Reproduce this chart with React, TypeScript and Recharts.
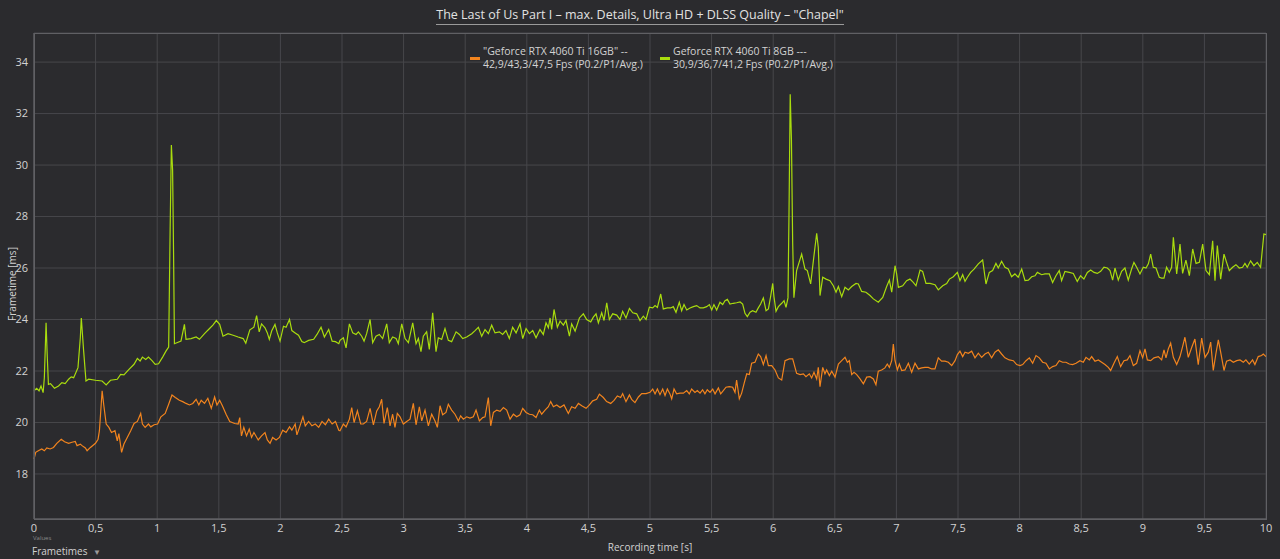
import React from "react";
import { LineChart, Line, XAxis, YAxis, CartesianGrid } from "recharts";

// Frametime series [time s, frametime ms]
const rtx16_a: [number, number][] = [
  [0, 18.58], [0.014, 18.84], [0.035, 18.9], [0.063, 18.97], [0.084, 18.9], [0.104, 19.01], [0.131, 18.97], [0.158, 19.03], [0.185, 19.19], [0.221, 19.35], [0.248, 19.25], [0.281, 19.19], [0.308, 19.23], [0.335, 19.26], [0.349, 19.1], [0.376, 19.16], [0.39, 19.1], [0.417, 19.01], [0.431, 18.9], [0.458, 19.03], [0.499, 19.19], [0.52, 19.35], [0.531, 19.68], [0.553, 21.23], [0.567, 20.65], [0.586, 19.94], [0.608, 19.81], [0.629, 19.61], [0.657, 19.68], [0.676, 19.29], [0.689, 19.57], [0.711, 18.84], [0.73, 19.16], [0.757, 19.42], [0.785, 19.68], [0.812, 19.96], [0.839, 20.04], [0.866, 20.35], [0.88, 19.94], [0.902, 19.81], [0.929, 19.94], [0.948, 19.83], [0.975, 19.91], [1.003, 19.94], [1.03, 20.22], [1.065, 20.35], [1.093, 20.71], [1.12, 21.07], [1.147, 20.97], [1.18, 20.86], [1.207, 20.81], [1.234, 20.74], [1.262, 20.68], [1.289, 20.74], [1.316, 20.9], [1.338, 20.68], [1.357, 20.86], [1.384, 20.74], [1.411, 20.94], [1.439, 20.55], [1.466, 20.99], [1.485, 20.68], [1.507, 20.86], [1.529, 20.65], [1.561, 20.3], [1.589, 20.04], [1.629, 19.96], [1.657, 19.94], [1.67, 20.19], [1.684, 19.48], [1.703, 19.81], [1.725, 19.48], [1.747, 19.74], [1.766, 19.42], [1.785, 19.61], [1.82, 19.32], [1.847, 19.48], [1.875, 19.61], [1.894, 19.32], [1.916, 19.19], [1.937, 19.42], [1.965, 19.32], [1.992, 19.42], [2.019, 19.7], [2.046, 19.61], [2.074, 19.83], [2.093, 19.7], [2.12, 19.94], [2.134, 19.52], [2.155, 19.81], [2.183, 20.22], [2.202, 19.87], [2.229, 20.04], [2.256, 19.87], [2.283, 19.94], [2.311, 19.81], [2.338, 20.04], [2.365, 19.91], [2.392, 20.13], [2.42, 19.94], [2.447, 20.04], [2.474, 19.7],
];
const rtx16_b: [number, number][] = [
  [2.484, 19.68], [2.511, 19.94], [2.533, 19.83], [2.56, 20.13], [2.579, 20.58], [2.598, 20.0], [2.625, 20.45], [2.652, 19.94], [2.673, 19.94], [2.7, 20.04], [2.728, 20.55], [2.755, 19.91], [2.782, 20.45], [2.803, 20.61], [2.822, 20.9], [2.841, 19.96], [2.868, 20.58], [2.89, 19.87], [2.911, 20.32], [2.93, 19.81], [2.949, 20.35], [2.971, 20.22], [2.998, 19.94], [3.025, 20.04], [3.052, 20.13], [3.079, 20.74], [3.101, 19.91], [3.128, 20.61], [3.147, 20.06], [3.174, 20.48], [3.201, 19.87], [3.228, 20.32], [3.255, 20.06], [3.274, 19.81], [3.296, 20.65], [3.317, 20.3], [3.344, 20.39], [3.363, 20.71], [3.39, 20.48], [3.417, 20.32], [3.445, 20.06], [3.463, 20.26], [3.485, 20.13], [3.512, 20.22], [3.539, 20.17], [3.566, 20.22], [3.588, 20.48], [3.615, 20.06], [3.642, 20.19], [3.661, 20.22], [3.688, 20.97], [3.707, 19.87], [3.729, 20.39], [3.756, 20.48], [3.783, 20.43], [3.81, 20.58], [3.837, 20.48], [3.864, 20.13], [3.891, 20.32], [3.918, 20.22], [3.945, 20.3], [3.967, 20.55], [3.994, 20.39], [4.021, 20.32], [4.048, 20.3], [4.075, 20.19], [4.102, 20.48], [4.121, 20.32], [4.148, 20.48], [4.175, 20.61], [4.194, 20.81], [4.216, 20.61], [4.243, 20.68], [4.27, 20.58], [4.302, 20.68], [4.337, 20.35], [4.364, 20.61], [4.392, 20.55], [4.419, 20.74], [4.446, 20.65], [4.481, 20.55], [4.508, 20.68], [4.535, 20.84], [4.567, 20.9], [4.589, 21.1], [4.621, 20.97], [4.648, 20.81], [4.681, 20.74], [4.708, 20.86], [4.735, 21.03], [4.762, 20.97], [4.778, 21.12], [4.805, 20.81], [4.833, 21.07], [4.851, 20.9], [4.878, 20.77], [4.906, 20.99], [4.933, 21.12], [4.968, 21.12],
];
const rtx16_c: [number, number][] = [
  [5.0, 21.17], [5.022, 21.3], [5.041, 21.11], [5.06, 21.3], [5.081, 21.08], [5.103, 21.3], [5.122, 21.05], [5.141, 21.3], [5.162, 21.11], [5.176, 20.92], [5.195, 21.3], [5.216, 21.11], [5.244, 21.14], [5.271, 21.14], [5.298, 21.24], [5.319, 21.11], [5.338, 21.3], [5.365, 21.17], [5.384, 21.24], [5.406, 21.14], [5.427, 21.27], [5.446, 21.11], [5.465, 21.27], [5.487, 21.17], [5.509, 21.3], [5.528, 21.11], [5.555, 21.34], [5.574, 21.11], [5.595, 21.24], [5.617, 21.37], [5.644, 21.39], [5.671, 21.37], [5.69, 21.17], [5.703, 21.65], [5.725, 20.92], [5.744, 21.14], [5.763, 21.5], [5.785, 21.89], [5.806, 21.86], [5.825, 22.3], [5.852, 22.34], [5.879, 22.66], [5.898, 22.56], [5.92, 22.25], [5.942, 22.6], [5.961, 22.21], [5.988, 22.21], [6.015, 22.04], [6.042, 21.73], [6.069, 21.65], [6.096, 22.4], [6.131, 22.47], [6.158, 22.47], [6.19, 21.91], [6.218, 21.86], [6.245, 21.89], [6.266, 21.78], [6.293, 21.89], [6.312, 21.73], [6.331, 21.95], [6.353, 21.69], [6.366, 22.14], [6.38, 21.39], [6.402, 22.14], [6.42, 21.89], [6.434, 22.04], [6.456, 21.82], [6.475, 21.99], [6.502, 21.76], [6.529, 22.27], [6.556, 22.4], [6.583, 22.53], [6.602, 22.34], [6.618, 22.4], [6.637, 21.86], [6.656, 21.95], [6.678, 21.86], [6.705, 21.69], [6.732, 21.5], [6.759, 21.76], [6.786, 21.78], [6.813, 21.69], [6.834, 21.47], [6.853, 21.99], [6.88, 22.04], [6.907, 22.12], [6.926, 22.27], [6.943, 22.14], [6.962, 22.4], [6.975, 23.05], [6.989, 22.4], [7.008, 22.04], [7.024, 22.27], [7.043, 22.02], [7.07, 22.04], [7.097, 22.3], [7.124, 21.95], [7.151, 22.3], [7.178, 22.08], [7.205, 22.12], [7.232, 22.14], [7.259, 22.14], [7.286, 22.08], [7.313, 22.08], [7.34, 22.51], [7.367, 22.38], [7.394, 22.38], [7.422, 22.34], [7.449, 22.21], [7.476, 22.4], [7.495, 22.64],
];
const rtx16_d: [number, number][] = [
  [7.516, 22.77], [7.538, 22.56], [7.557, 22.73], [7.584, 22.69], [7.611, 22.77], [7.638, 22.51], [7.665, 22.69], [7.692, 22.53], [7.719, 22.66], [7.746, 22.73], [7.773, 22.51], [7.8, 22.73], [7.827, 22.82], [7.854, 22.66], [7.881, 22.51], [7.916, 22.43], [7.949, 22.4], [7.976, 22.25], [8.003, 22.21], [8.025, 22.25], [8.052, 22.4], [8.079, 22.51], [8.106, 22.3], [8.133, 22.6], [8.16, 22.51], [8.187, 22.34], [8.214, 22.3], [8.241, 22.08], [8.268, 22.17], [8.295, 22.21], [8.322, 22.4], [8.349, 22.34], [8.376, 22.34], [8.403, 22.27], [8.43, 22.25], [8.458, 22.3], [8.49, 22.4], [8.517, 22.34], [8.539, 22.53], [8.566, 22.43], [8.585, 22.56], [8.612, 22.38], [8.639, 22.43], [8.666, 22.34], [8.693, 22.25], [8.72, 22.14], [8.739, 22.02], [8.766, 22.3], [8.793, 22.56], [8.82, 22.17], [8.847, 22.4], [8.874, 22.43], [8.896, 22.6], [8.923, 22.21], [8.95, 22.3], [8.977, 22.79], [8.999, 22.51], [9.018, 22.86], [9.037, 22.43], [9.064, 22.4], [9.091, 22.51], [9.126, 22.56], [9.153, 22.43], [9.172, 22.82], [9.188, 22.51], [9.207, 22.86], [9.226, 23.08], [9.248, 22.53], [9.275, 22.25], [9.302, 22.56], [9.323, 22.95], [9.342, 23.31], [9.369, 22.53], [9.396, 22.9], [9.423, 23.24], [9.45, 22.25], [9.478, 23.28], [9.505, 22.53], [9.532, 22.73], [9.551, 23.12], [9.572, 22.02], [9.594, 22.69], [9.613, 23.21], [9.632, 22.73], [9.659, 22.02], [9.68, 22.38], [9.708, 22.43], [9.735, 22.34], [9.762, 22.4], [9.789, 22.43], [9.816, 22.34], [9.837, 22.43], [9.864, 22.27], [9.891, 22.43], [9.91, 22.25], [9.937, 22.56], [9.964, 22.6], [9.978, 22.66], [10.0, 22.56],
];

const rtx8_a: [number, number][] = [
  [0, 21.23], [0.022, 21.33], [0.041, 21.23], [0.057, 21.42], [0.074, 21.16], [0.084, 21.74], [0.098, 23.87], [0.106, 22.77], [0.117, 21.48], [0.134, 21.51], [0.166, 21.33], [0.199, 21.42], [0.226, 21.55], [0.253, 21.51], [0.281, 21.68], [0.302, 21.77], [0.322, 21.74], [0.357, 22.13], [0.376, 23.29], [0.384, 24.06], [0.403, 22.77], [0.422, 21.61], [0.444, 21.68], [0.499, 21.64], [0.553, 21.61], [0.586, 21.46], [0.621, 21.64], [0.676, 21.68], [0.703, 21.87], [0.73, 21.85], [0.771, 22.06], [0.812, 22.26], [0.839, 22.49], [0.861, 22.39], [0.88, 22.54], [0.907, 22.45], [0.929, 22.54], [0.956, 22.41], [0.984, 22.26], [1.011, 22.28], [1.044, 22.54], [1.071, 22.77], [1.093, 22.93], [1.105, 27.5], [1.115, 30.78], [1.125, 29.8], [1.133, 26.5], [1.14, 23.06], [1.193, 23.16], [1.221, 23.81], [1.234, 23.23], [1.275, 23.26], [1.316, 23.32], [1.343, 23.23], [1.384, 23.45], [1.425, 23.65], [1.452, 23.78], [1.48, 23.96], [1.507, 23.81], [1.534, 23.35], [1.575, 23.45], [1.616, 23.39], [1.657, 23.32], [1.698, 23.26], [1.719, 23.08], [1.752, 23.6], [1.785, 23.7], [1.807, 24.15], [1.828, 23.52], [1.847, 23.83], [1.875, 23.68], [1.894, 23.48], [1.91, 23.23], [1.929, 23.55], [1.956, 23.81], [1.975, 23.48], [1.997, 23.16], [2.025, 23.74], [2.046, 23.7], [2.074, 24.0], [2.093, 23.57], [2.12, 23.48], [2.147, 23.39], [2.174, 23.14], [2.193, 23.1], [2.229, 23.19], [2.27, 23.23], [2.297, 23.42], [2.33, 23.7], [2.357, 23.32], [2.392, 23.61], [2.42, 23.16], [2.447, 23.14], [2.474, 23.06],
];
const rtx8_b: [number, number][] = [
  [2.484, 23.19], [2.511, 23.29], [2.533, 22.9], [2.56, 23.83], [2.587, 23.48], [2.614, 23.42], [2.633, 23.52], [2.66, 23.35], [2.679, 23.16], [2.7, 23.45], [2.728, 24.0], [2.749, 23.1], [2.776, 23.35], [2.803, 23.42], [2.83, 23.26], [2.863, 23.83], [2.884, 23.1], [2.911, 23.32], [2.939, 23.26], [2.957, 23.06], [2.985, 23.83], [3.012, 23.26], [3.039, 23.1], [3.074, 23.87], [3.101, 23.06], [3.12, 23.26], [3.141, 22.75], [3.16, 23.35], [3.187, 23.52], [3.209, 22.84], [3.236, 24.26], [3.263, 22.75], [3.282, 23.29], [3.309, 23.23], [3.336, 23.65], [3.363, 23.19], [3.39, 23.14], [3.426, 23.52], [3.453, 23.42], [3.48, 23.26], [3.512, 23.32], [3.553, 23.45], [3.58, 23.57], [3.607, 23.7], [3.634, 23.35], [3.661, 23.61], [3.688, 23.45], [3.715, 23.78], [3.742, 23.48], [3.777, 23.52], [3.804, 23.42], [3.831, 23.57], [3.858, 23.26], [3.885, 23.7], [3.913, 23.48], [3.945, 23.83], [3.967, 23.26], [3.994, 23.65], [4.021, 23.45], [4.048, 23.57], [4.075, 23.29], [4.107, 23.61], [4.134, 23.42], [4.156, 23.87], [4.175, 23.68], [4.189, 24.06], [4.202, 23.61], [4.221, 24.39], [4.248, 23.7], [4.27, 23.94], [4.297, 23.78], [4.318, 23.96], [4.346, 23.35], [4.364, 23.83], [4.392, 23.55], [4.427, 24.06], [4.459, 24.22], [4.486, 24.0], [4.519, 23.91], [4.54, 24.09], [4.562, 24.22], [4.581, 23.87], [4.608, 24.26], [4.627, 23.96], [4.649, 24.65], [4.67, 24.0], [4.697, 24.22], [4.73, 24.17], [4.757, 24.0], [4.778, 24.32], [4.805, 24.06], [4.833, 24.43], [4.86, 24.26], [4.892, 24.22], [4.919, 23.96], [4.946, 24.13], [4.968, 24.0], [4.995, 24.48],
];
const rtx8_c: [number, number][] = [
  [5.022, 24.45], [5.041, 24.54], [5.06, 24.47], [5.087, 24.99], [5.108, 24.41], [5.141, 24.45], [5.168, 24.45], [5.189, 24.5], [5.211, 24.28], [5.238, 24.67], [5.257, 24.34], [5.276, 24.58], [5.298, 24.37], [5.325, 24.45], [5.352, 24.5], [5.379, 24.54], [5.406, 24.45], [5.433, 24.45], [5.46, 24.5], [5.482, 24.58], [5.501, 24.37], [5.519, 24.58], [5.541, 24.37], [5.568, 24.67], [5.59, 24.58], [5.609, 24.73], [5.628, 24.78], [5.649, 24.6], [5.676, 24.63], [5.703, 24.65], [5.731, 24.68], [5.752, 24.6], [5.771, 24.24], [5.79, 24.11], [5.812, 24.28], [5.833, 24.34], [5.86, 24.28], [5.879, 24.45], [5.898, 24.6], [5.92, 24.84], [5.942, 24.34], [5.961, 24.41], [5.979, 24.89], [5.996, 25.4], [6.006, 24.89], [6.023, 24.32], [6.042, 24.5], [6.069, 24.63], [6.088, 24.73], [6.104, 24.47], [6.12, 24.84], [6.128, 28.0], [6.138, 32.75], [6.148, 31.0], [6.158, 27.0], [6.168, 24.85], [6.19, 25.9], [6.231, 26.54], [6.258, 25.96], [6.277, 25.9], [6.304, 25.38], [6.326, 26.28], [6.353, 27.35], [6.366, 26.8], [6.38, 24.93], [6.402, 25.64], [6.429, 25.57], [6.461, 25.51], [6.488, 25.31], [6.51, 25.06], [6.529, 25.28], [6.556, 24.89], [6.583, 25.25], [6.61, 25.15], [6.637, 25.28], [6.672, 25.4], [6.691, 25.38], [6.718, 25.09], [6.753, 25.06], [6.786, 24.93], [6.813, 24.8], [6.853, 24.67], [6.889, 24.86], [6.921, 25.28], [6.943, 25.53], [6.962, 25.06], [6.989, 26.09], [7.002, 25.77], [7.016, 25.25], [7.051, 25.31], [7.083, 25.51], [7.11, 25.57], [7.137, 25.44], [7.159, 25.31], [7.192, 25.92], [7.213, 25.87], [7.24, 25.4], [7.273, 25.4], [7.313, 25.35], [7.34, 25.15], [7.376, 25.31], [7.408, 25.4], [7.43, 25.57], [7.462, 25.66], [7.495, 25.83],
];
const rtx8_d: [number, number][] = [
  [7.516, 25.51], [7.538, 25.74], [7.557, 25.48], [7.576, 25.64], [7.603, 25.83], [7.63, 25.96], [7.665, 26.16], [7.7, 26.31], [7.727, 25.38], [7.754, 25.83], [7.781, 25.9], [7.808, 26.18], [7.827, 26.0], [7.854, 26.26], [7.881, 26.03], [7.908, 25.96], [7.935, 25.66], [7.962, 25.77], [7.989, 25.64], [8.017, 25.96], [8.044, 25.51], [8.071, 25.53], [8.098, 25.66], [8.125, 25.7], [8.144, 25.83], [8.179, 25.74], [8.206, 25.77], [8.241, 25.77], [8.268, 25.44], [8.295, 25.7], [8.322, 25.9], [8.341, 25.51], [8.368, 25.87], [8.403, 25.83], [8.436, 25.79], [8.468, 25.48], [8.495, 25.7], [8.522, 25.57], [8.55, 25.83], [8.577, 25.92], [8.604, 25.83], [8.631, 25.79], [8.658, 25.87], [8.685, 26.03], [8.712, 26.0], [8.734, 25.9], [8.755, 25.53], [8.774, 26.0], [8.801, 25.53], [8.828, 25.87], [8.855, 26.0], [8.882, 25.53], [8.909, 25.96], [8.928, 26.22], [8.95, 26.03], [8.977, 25.77], [9.004, 26.03], [9.026, 26.0], [9.045, 26.16], [9.064, 26.54], [9.085, 26.03], [9.107, 26.0], [9.134, 25.64], [9.153, 25.61], [9.172, 25.61], [9.193, 26.03], [9.215, 25.83], [9.234, 26.03], [9.248, 27.19], [9.275, 25.77], [9.302, 26.93], [9.323, 25.79], [9.35, 26.31], [9.378, 25.7], [9.405, 26.74], [9.432, 26.18], [9.459, 26.22], [9.486, 26.93], [9.513, 25.9], [9.54, 25.74], [9.567, 27.06], [9.586, 25.51], [9.605, 26.87], [9.632, 25.57], [9.659, 26.54], [9.68, 26.22], [9.702, 25.9], [9.729, 26.03], [9.756, 26.13], [9.783, 26.0], [9.81, 26.03], [9.829, 26.18], [9.848, 26.03], [9.875, 26.28], [9.902, 26.09], [9.929, 26.22], [9.956, 26.03], [9.983, 27.32], [10.0, 27.3],
];

const xTicks = [0, 0.5, 1, 1.5, 2, 2.5, 3, 3.5, 4, 4.5, 5, 5.5, 6, 6.5, 7, 7.5, 8, 8.5, 9, 9.5, 10];
const yTicks = [18, 20, 22, 24, 26, 28, 30, 32, 34];

const seriesNames = [
  ['"Geforce RTX 4060 Ti 16GB" --', "42,9/43,3/47,5 Fps (P0.2/P1/Avg.)"],
  ["Geforce RTX 4060 Ti 8GB ---", "30,9/36,7/41,2 Fps (P0.2/P1/Avg.)"],
];

const toRows = (arr: [number, number][]) => arr.map(([t, v]) => ({ t, v }));
const data16 = toRows([...rtx16_a, ...rtx16_b, ...rtx16_c, ...rtx16_d]);
const data8 = toRows([...rtx8_a, ...rtx8_b, ...rtx8_c, ...rtx8_d]);

const ORANGE = "#f2841e";
const GREEN = "#a9dc0e";
const BG = "#2b2b2e";
const TEXT = "#d2d2d2";
const FONT = "'Open Sans', 'Noto Sans', sans-serif";

const fmt = (v: number) => String(v).replace(".", ",");

export default function App() {
  return (
    <div style={{ position: "absolute", left: 0, top: 0, width: 1280, height: 559, background: BG, fontFamily: FONT, overflow: "hidden" }}>
      <LineChart width={1280} height={559} margin={{ top: 33, right: 14, bottom: 20, left: 0 }}>
        <CartesianGrid stroke="#47474b" strokeWidth={1} horizontal vertical />
        <XAxis
          type="number"
          dataKey="t"
          domain={[0, 10]}
          ticks={xTicks}
          tickFormatter={fmt}
          allowDuplicatedCategory={false}
          axisLine={{ stroke: "#6a6a6e" }}
          tickLine={false}
          tickSize={0}
          tickMargin={5}
          height={20}
          tick={{ fill: TEXT, fontSize: 11, fontFamily: FONT }}
        />
        <YAxis
          type="number"
          domain={[16.25, 35.13]}
          ticks={yTicks}
          allowDataOverflow
          axisLine={{ stroke: "#6a6a6e" }}
          tickLine={false}
          tickSize={0}
          tickMargin={6}
          width={34}
          tick={{ fill: TEXT, fontSize: 11, fontFamily: FONT }}
        />
        <Line data={data16} dataKey="v" type="linear" stroke={ORANGE} strokeWidth={1.2} dot={false} isAnimationActive={false} />
        <Line data={data8} dataKey="v" type="linear" stroke={GREEN} strokeWidth={1.2} dot={false} isAnimationActive={false} />
      </LineChart>

      {/* plot frame */}
      <div style={{ position: "absolute", left: 34, top: 33, width: 1233, height: 487, border: "1px solid #606064", boxSizing: "border-box", pointerEvents: "none" }} />

      {/* title */}
      <div style={{ position: "absolute", left: 0, top: 2, width: 1280, textAlign: "center" }}>
        <span style={{ display: "inline-block", color: "#e2e2e2", fontSize: 12.5, lineHeight: "16px", paddingBottom: 1, borderBottom: "1px solid #9a9a9a" }}>
          The Last of Us Part I – max. Details, Ultra HD + DLSS Quality – "Chapel"
        </span>
      </div>

      {/* legend */}
      {[ORANGE, GREEN].map((c, i) => (
        <div key={i} style={{ position: "absolute", left: i === 0 ? 470 : 660, top: 45, display: "flex", alignItems: "flex-start" }}>
          <div style={{ width: 10, height: 3, background: c, marginTop: 12, marginRight: 3 }} />
          <div style={{ color: TEXT, fontSize: 10.5, lineHeight: "13px", whiteSpace: "nowrap" }}>
            <div>{seriesNames[i][0]}</div>
            <div>{seriesNames[i][1]}</div>
          </div>
        </div>
      ))}

      {/* y axis title */}
      <div style={{ position: "absolute", left: 12, top: 284, width: 0, height: 0 }}>
        <div style={{ position: "absolute", left: 0, top: 0, transform: "translate(-50%, -50%) rotate(-90deg)", color: TEXT, fontSize: 10, whiteSpace: "nowrap" }}>
          Frametime [ms]
        </div>
      </div>

      {/* x axis title */}
      <div style={{ position: "absolute", left: 650, top: 540, transform: "translateX(-50%)", color: TEXT, fontSize: 10, whiteSpace: "nowrap" }}>
        Recording time [s]
      </div>

      {/* bottom-left controls */}
      <div style={{ position: "absolute", left: 33, top: 535, color: "#8a8a8a", fontSize: 6, lineHeight: "7px" }}>Values</div>
      <div style={{ position: "absolute", left: 32, top: 545, color: TEXT, fontSize: 10, lineHeight: "13px", whiteSpace: "nowrap" }}>
        Frametimes <span style={{ color: "#9a9a9a", fontSize: 8, marginLeft: 3 }}>▼</span>
      </div>
    </div>
  );
}
